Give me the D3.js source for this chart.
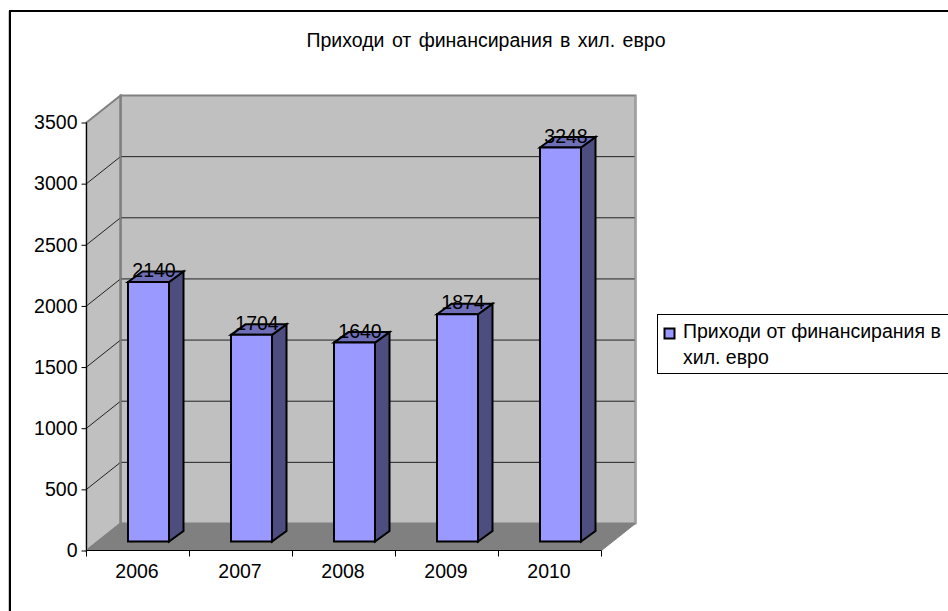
<!DOCTYPE html>
<html>
<head>
<meta charset="utf-8">
<script src="https://cdn.jsdelivr.net/npm/d3@7"></script>
<style>
  html, body { margin: 0; padding: 0; background: #fff; }
  svg { display: block; font-family: "Liberation Sans", Arial, sans-serif; }
</style>
</head>
<body>
<svg width="948" height="611"></svg>
<script>
const years = ["2006", "2007", "2008", "2009", "2010"];
const values = [2140, 1704, 1640, 1874, 3248];
const yTicks = [0, 500, 1000, 1500, 2000, 2500, 3000, 3500];
const titleText = "Приходи от финансирания в хил. евро";
const legendLines = ["Приходи от финансирания в", "хил. евро"];

let svg = d3.select("svg");
const fontSize = "19.5px";

// outer frame, with its faint grey edge on the left
svg.append("line")
  .attr("x1", 8.5).attr("x2", 8.5).attr("y1", 11).attr("y2", 611)
  .attr("stroke", "#ccc");
svg.append("rect")
  .attr("x", 10).attr("y", 11)
  .attr("width", 940).attr("height", 610)
  .attr("fill", "#fff").attr("stroke", "#000").attr("stroke-width", 2);

svg.append("text")
  .attr("x", 486).attr("y", 47)
  .attr("text-anchor", "middle")
  .style("font-size", fontSize)
  .style("word-spacing", "2px")
  .text(titleText);

let x = d3.scaleBand().domain(years).range([86.5, 601.5]);
let y = d3.scaleLinear().domain([0, 3500]).range([550.5, 122.5]);
// bars stand further back on the floor, so they rise a little less per unit
let barY = d3.scaleLinear().domain([0, 3500]).range([541.5, 117]);

// how far the back wall sits from the front of the floor
const wallDx = 34, wallDy = -27;
// bar placement inside the depth of the floor
const barDx = 10.5, depthDx = 14.5, depthDy = -10.5, barW = 41;

let left = x.range()[0], right = x.range()[1];
let y0 = y(0), yTop = y(3500);

let poly = (pts, fill, stroke, sw) => svg.append("polygon")
  .attr("points", pts.map(p => p.join(",")).join(" "))
  .attr("fill", fill).attr("stroke", stroke).attr("stroke-width", sw)
  .attr("stroke-linejoin", "miter");

// back wall, side wall, floor
poly([[left + wallDx, yTop + wallDy], [right + wallDx, yTop + wallDy], [right + wallDx, y0 + wallDy], [left + wallDx, y0 + wallDy]], "#c0c0c0", "#808080", 2);
poly([[left, yTop], [left + wallDx, yTop + wallDy], [left + wallDx, y0 + wallDy], [left, y0]], "#c0c0c0", "#808080", 2);
poly([[left, y0], [left + wallDx, y0 + wallDy], [right + wallDx, y0 + wallDy], [right, y0]], "#808080", "#808080", 1);

// gridlines wrap from the axis onto the back wall
let grid = yTicks.filter(d => d > 0 && d < 3500);
svg.append("g").selectAll("path").data(grid).enter().append("path")
  .attr("fill", "none").attr("stroke", "#222").attr("stroke-width", 1)
  .attr("d", d => `M${left},${y(d)}L${left + wallDx},${y(d) + wallDy}L${right + wallDx},${y(d) + wallDy}`);

// repaint the wall edges the gridlines crossed
svg.append("line")
  .attr("x1", left + wallDx).attr("x2", left + wallDx)
  .attr("y1", yTop + wallDy).attr("y2", y0 + wallDy)
  .attr("stroke", "#808080").attr("stroke-width", 2);
svg.append("line")
  .attr("x1", right + wallDx).attr("x2", right + wallDx)
  .attr("y1", yTop + wallDy).attr("y2", y0 + wallDy)
  .attr("stroke", "#a0a0a0").attr("stroke-width", 2);

// axes
let yAxis = d3.axisLeft(y).tickValues(yTicks).tickSize(5).tickPadding(4).tickFormat(d3.format("d"));
let gy = svg.append("g").attr("transform", `translate(${left},0)`).call(yAxis);
gy.selectAll("text").style("font-size", fontSize).attr("fill", "#000");
gy.selectAll("line").attr("stroke", "#000");
gy.select(".domain").remove();
svg.append("line")
  .attr("x1", left).attr("x2", left).attr("y1", yTop).attr("y2", y0)
  .attr("stroke", "#000");

let xAxis = d3.axisBottom(x).tickSize(0).tickPadding(14);
let gx = svg.append("g").attr("transform", `translate(0,${y0})`).call(xAxis);
gx.selectAll("text").style("font-size", fontSize).attr("fill", "#000").attr("dx", -1);
gx.select(".domain").attr("stroke", "#000").attr("d", `M${left},0H${right}`);
gx.selectAll("line.sep").data(d3.range(6)).enter().append("line")
  .attr("class", "sep")
  .attr("x1", i => left + i * x.bandwidth()).attr("x2", i => left + i * x.bandwidth())
  .attr("y1", 0).attr("y2", 6)
  .attr("stroke", "#000");

// bars
years.forEach((yr, i) => {
  let x0 = x(yr) + (x.bandwidth() - barW) / 2 + barDx;
  let x1 = x0 + barW;
  let bottom = barY(0);
  let top = barY(values[i]);
  let s = "#000";
  poly([[x1, top], [x1 + depthDx, top + depthDy], [x1 + depthDx, bottom + depthDy], [x1, bottom]], "#4d4d80", s, 2);
  poly([[x0, top], [x0 + depthDx, top + depthDy], [x1 + depthDx, top + depthDy], [x1, top]], "#6f6fb8", s, 2);
  poly([[x0, top], [x1, top], [x1, bottom], [x0, bottom]], "#9999ff", s, 2);
});

// value labels sit across the bar's top edge
svg.append("g").selectAll("text").data(values).enter().append("text")
  .attr("x", (d, i) => x(years[i]) + x.bandwidth() / 2 + barDx + 5.5)
  .attr("y", d => barY(d) - 5)
  .attr("text-anchor", "middle")
  .style("font-size", fontSize)
  .text(d => d);

// legend
svg.append("rect")
  .attr("x", 657.5).attr("y", 314.5)
  .attr("width", 300).attr("height", 59)
  .attr("fill", "#fff").attr("stroke", "#000");
svg.append("rect")
  .attr("x", 664.5).attr("y", 328.5)
  .attr("width", 10).attr("height", 10)
  .attr("fill", "#9999ff").attr("stroke", "#000").attr("stroke-width", 2);
svg.append("g").selectAll("text").data(legendLines).enter().append("text")
  .attr("x", 683)
  .attr("y", (d, i) => 338 + i * 26)
  .style("font-size", fontSize)
  .text(d => d);
</script>
</body>
</html>
